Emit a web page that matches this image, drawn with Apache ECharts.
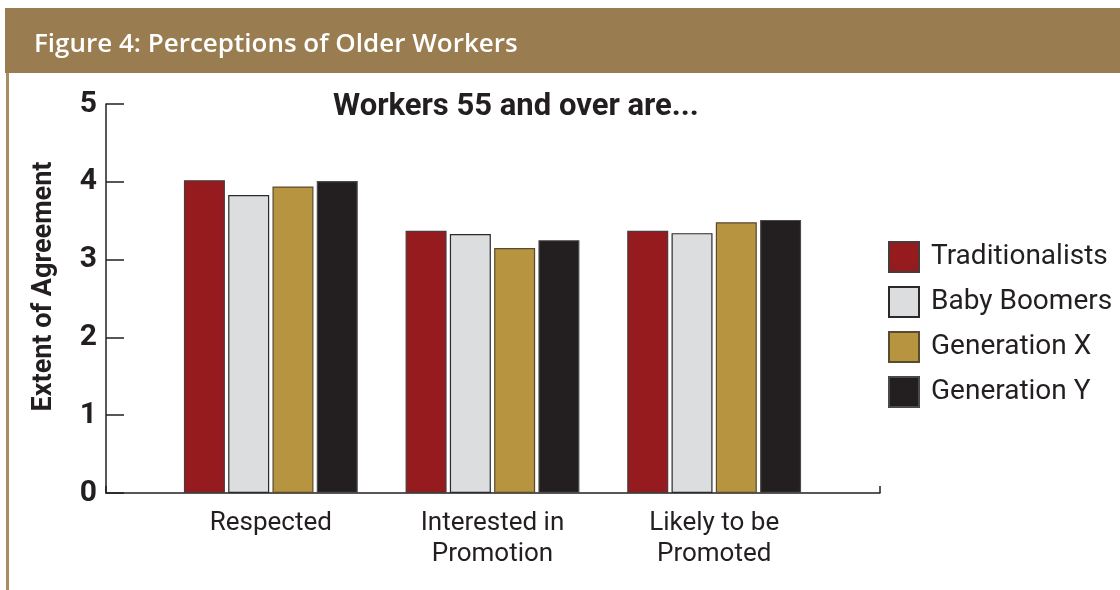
<!DOCTYPE html>
<html>
<head>
<meta charset="utf-8">
<script src="https://cdn.jsdelivr.net/npm/echarts@6/dist/echarts.min.js"></script>
<style>html,body{margin:0;padding:0;background:#fff;}#c{width:1120px;height:590px;}</style>
</head>
<body>
<div id="c"></div>
<script>
const categories = ['Respected', 'Interested in\nPromotion', 'Likely to be\nPromoted'];
const seriesNames = ['Traditionalists', 'Baby Boomers', 'Generation X', 'Generation Y'];
const traditionalists = [4.02, 3.37, 3.37];
const babyBoomers = [3.83, 3.33, 3.34];
const generationX = [3.94, 3.15, 3.48];
const generationY = [4.01, 3.25, 3.51];
const yTicks = [0, 1, 2, 3, 4, 5];
const colors = ['#961b1f', '#dcdddf', '#b69440', '#231f20'];
const borders = ['#4a3a3a', '#2a2a2a', '#5a4a30', '#4a4a4a'];
const values = [traditionalists, babyBoomers, generationX, generationY];

const FONT = 'Roboto';
const INK = '#231f20';
const chart = echarts.init(document.getElementById('c'), null, {renderer: 'canvas'});
chart.setOption({
  animation: false,
  backgroundColor: '#ffffff',
  textStyle: {fontFamily: FONT},
  graphic: [
    {type: 'rect', shape: {x: 5, y: 8, width: 1115, height: 65}, style: {fill: '#997c50'}, z: 0},
    {type: 'rect', shape: {x: 6, y: 73, width: 3, height: 517}, style: {fill: '#a88d62'}, z: 0}
  ],
  title: [
    {text: 'Figure 4: Perceptions of Older Workers', left: 29, top: 27,
     textStyle: {color: '#ffffff', fontSize: 26, fontWeight: 600, fontFamily: 'Open Sans'}},
    {text: 'Workers 55 and over are...', left: 328, top: 87,
     textStyle: {color: INK, fontSize: 31, fontWeight: 'bold', fontFamily: FONT}}
  ],
  legend: {
    orient: 'vertical', left: 888, top: 241, padding: 0, itemWidth: 30, itemHeight: 30, itemGap: 13,
    icon: 'rect',
    data: seriesNames,
    textStyle: {fontSize: 28, lineHeight: 30, color: INK, fontFamily: FONT, padding: [0, 0, 0, 7]}
  },
  grid: [
    {left: 106, right: 240, top: 104, bottom: 97},
    {left: 160, right: 295, top: 104, bottom: 97}
  ],
  xAxis: [
    {gridIndex: 0, type: 'value', min: 0, max: 1, interval: 1,
     axisLine: {show: true, lineStyle: {color: INK, width: 1.5}},
     axisTick: {show: true, inside: true, length: 7, lineStyle: {color: INK, width: 1.5}},
     axisLabel: {show: false}, splitLine: {show: false}},
    {gridIndex: 1, type: 'category', data: categories,
     axisLine: {show: false}, axisTick: {show: false},
     axisLabel: {fontSize: 26, color: INK, margin: 15, lineHeight: 31, fontFamily: FONT}}
  ],
  yAxis: [
    {gridIndex: 0, type: 'value', min: yTicks[0], max: yTicks[yTicks.length - 1], interval: 1,
     name: 'Extent of Agreement', nameLocation: 'middle', nameGap: 48, nameRotate: 90,
     nameTextStyle: {fontSize: 27, fontWeight: 'bold', color: INK, fontFamily: FONT, padding: [0, 0, 0, 24]},
     axisLine: {show: true, lineStyle: {color: INK, width: 1.5}},
     axisTick: {show: true, inside: true, length: 18, lineStyle: {color: INK, width: 1.5}},
     axisLabel: {fontSize: 30, fontWeight: 'bold', color: INK, margin: 9, fontFamily: FONT},
     splitLine: {show: false}},
    {gridIndex: 1, type: 'value', min: 0, max: 5, show: false}
  ],
  series: seriesNames.map((n, i) => ({
    name: n, type: 'bar', xAxisIndex: 1, yAxisIndex: 1,
    data: values[i], barWidth: 41, barGap: '8%',
    itemStyle: {color: colors[i], borderColor: borders[i], borderWidth: 1.2}
  }))
});
</script>
</body>
</html>
